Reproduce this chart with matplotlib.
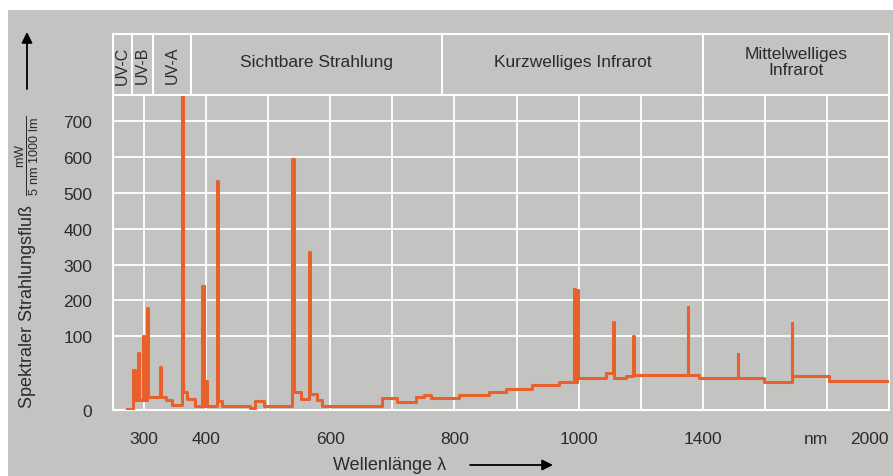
import numpy as np
import matplotlib.pyplot as plt
from matplotlib.patches import Rectangle, FancyArrowPatch

plt.rcParams['font.family'] = ['Liberation Sans', 'DejaVu Sans']
plt.rcParams['mathtext.fontset'] = 'custom'
plt.rcParams['mathtext.rm'] = 'Liberation Sans'

BG = '#c3c3c1'
LINE = '#e8602b'
TXT = '#2b2b2b'

# continuum of the lamp spectrum: step edges (nm) and level between them
cont_nm = [272, 282, 306, 336, 345, 361, 369, 382, 418, 426,
           470, 478, 494, 539, 553, 568, 578, 586, 684, 707,
           738, 751, 763, 808, 856, 883, 925, 968, 997, 1087,
           1113, 1152, 1177, 1387, 1597, 1687, 1806, 2000]
cont_val = [2, 13, 17, 13, 7, 24, 15, 6, 12, 5,
            3, 12, 6, 24, 15, 22, 14, 6, 16, 11,
            17, 20, 16, 21, 24, 29, 34, 38, 44, 50,
            43, 46, 48, 43, 38, 46, 40]

# emission lines
line_nm = [283, 290, 298, 305, 326, 361, 394, 399, 417, 539, 566,
           993, 997, 1111, 1175, 1352, 1513, 1687]
line_val = [55, 78, 100, 180, 58, 800, 239, 39, 533, 594, 336,
            232, 228, 139, 100, 183, 76, 136]

# spectral bands shown above the plot
band_edges = [250, 280, 315, 375, 780, 1400, 2000]
band_names = ['UV-C', 'UV-B', 'UV-A', 'Sichtbare Strahlung',
              'Kurzwelliges Infrarot', 'Mittelwelliges\nInfrarot']

x_ticks = [300, 400, 500, 600, 700, 800, 900, 1000, 1200, 1400, 1600, 1800, 2000]
x_labels = ['300', '400', '', '600', '', '800', '', '1000', '', '1400', '', '', '2000']
y_ticks = [0, 100, 200, 300, 400, 500, 600, 700]


# above 1000 nm the wavelength axis is compressed by half
def x_fwd(x):
    x = np.asarray(x, dtype=float)
    return np.where(x < 1000, x, 1000 + (x - 1000) * 0.5)


def x_inv(t):
    t = np.asarray(t, dtype=float)
    return np.where(t < 1000, t, 1000 + (t - 1000) * 2.0)


# below 100 the flux axis is stretched
Y_STRETCH = 2.05


def y_fwd(y):
    y = np.asarray(y, dtype=float)
    return np.where(y < 100, y * Y_STRETCH, 100 * Y_STRETCH + (y - 100))


def y_inv(t):
    t = np.asarray(t, dtype=float)
    return np.where(t < 100 * Y_STRETCH, t / Y_STRETCH, t - 100 * Y_STRETCH + 100)


def spectrum(width=2.0):
    edges = np.array(cont_nm, dtype=float)
    xs = list(edges)
    for w in line_nm:
        xs += [w, w + width]
    xs = np.unique(xs)
    idx = np.clip(np.searchsorted(edges, xs, side='right') - 1, 0, len(cont_val) - 1)
    ys = np.array(cont_val, dtype=float)[idx]
    for w, h in zip(line_nm, line_val):
        m = (xs >= w) & (xs < w + width)
        ys[m] = np.maximum(ys[m], h)
    return xs, ys


W, H = 893, 477
fig = plt.figure(figsize=(W / 100, H / 100), dpi=100)
fig.patch.set_facecolor('white')
fig.patches.append(Rectangle((8 / W, 0), 1 - 8 / W, 1 - 11 / H, transform=fig.transFigure,
                             facecolor=BG, edgecolor='none', zorder=-10))

L, R, T, B = 113, 889, 96, 411
ax = fig.add_axes([L / W, 1 - B / H, (R - L) / W, (B - T) / H])
ax.set_facecolor(BG)
ax.set_xscale('function', functions=(x_fwd, x_inv))
ax.set_yscale('function', functions=(y_fwd, y_inv))
ax.set_xlim(250, 2000)
ax.set_ylim(0, 772)

xs, ys = spectrum()
ax.step(xs, ys, where='post', color=LINE, lw=2.2, zorder=3)

ax.set_xticks(x_ticks)
ax.set_xticklabels(x_labels)
ax.get_xticklabels()[-1].set_horizontalalignment('right')
ax.set_yticks(y_ticks)
ax.tick_params(length=0, labelsize=12.5, labelcolor=TXT)
ax.tick_params(axis='x', pad=15)
ax.tick_params(axis='y', pad=15)
ax.grid(True, color='white', lw=1.3)
ax.set_axisbelow(True)
for s in ax.spines.values():
    s.set_color('white')
    s.set_linewidth(1.5)
ax.text(1765, -0.066, 'nm', transform=ax.get_xaxis_transform(), ha='center', va='top',
        fontsize=12.5, color=TXT)

# header row with the spectral bands
hax = fig.add_axes([L / W, 1 - T / H, (R - L) / W, 61 / H])
hax.set_facecolor(BG)
hax.set_xscale('function', functions=(x_fwd, x_inv))
hax.set_xlim(250, 2000)
hax.set_ylim(0, 1)
hax.set_xticks([])
hax.set_yticks([])
for s in hax.spines.values():
    s.set_color('white')
    s.set_linewidth(1.5)
for b in band_edges[1:-1]:
    hax.axvline(b, color='white', lw=1.5)
for lo, hi, name in zip(band_edges[:-1], band_edges[1:], band_names):
    xc = float(x_inv((x_fwd(lo) + x_fwd(hi)) / 2))
    if name.startswith('UV'):
        hax.text(xc, 0.5, name, rotation=90, ha='center', va='center', fontsize=11.5, color=TXT)
    else:
        hax.text(xc, 0.55, name, ha='center', va='center', fontsize=12.5, color=TXT,
                 linespacing=1.15)


def fpt(x, y):
    return x / W, 1 - y / H


fig.text(*fpt(27, 262), r'Spektraler Strahlungsfluß  $\frac{\mathrm{mW}}{\mathrm{5\ nm\ 1000\ lm}}$',
         rotation=90, ha='center', va='center', fontsize=13, color=TXT)
fig.text(*fpt(390, 466), 'Wellenlänge λ', ha='center', va='center', fontsize=13, color=TXT)

for p0, p1 in [((27, 90), (27, 33)), ((470, 466), (553, 466))]:
    fig.patches.append(FancyArrowPatch(fpt(*p0), fpt(*p1), transform=fig.transFigure,
                                       arrowstyle='-|>', mutation_scale=16, lw=1.3,
                                       color='black', shrinkA=0, shrinkB=0))

fig.savefig('out.png', dpi=100, facecolor=fig.get_facecolor())
